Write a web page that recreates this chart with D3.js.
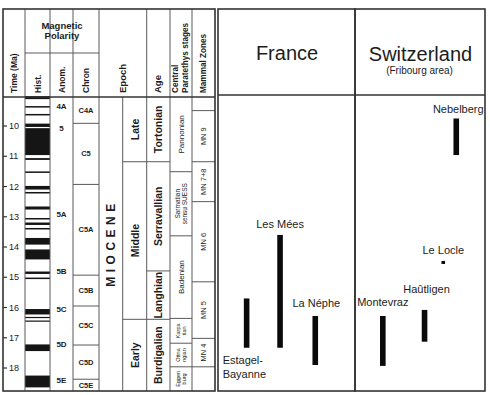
<!DOCTYPE html>
<html>
<head>
<meta charset="utf-8">
<script src="https://cdn.jsdelivr.net/npm/d3@7"></script>
<style>
  body { margin: 0; background: #fff; }
  svg text { font-family: "Liberation Sans", Arial, sans-serif; fill: #1c1c1c; }
</style>
</head>
<body>
<div id="chart"></div>
<script>
// ---- data (ages in Ma) ----
const timeTicks = [10, 11, 12, 13, 14, 15, 16, 17, 18];
const timeSpan = [9.04, 18.76];

// black (normal) polarity bands, [from, to]
const polarityBands = [
  [9.01, 9.11], [9.34, 9.39], [9.60, 9.65], [9.92, 10.03], [10.07, 10.96],
  [11.06, 11.12], [11.50, 11.55], [11.98, 12.10], [12.18, 12.23], [12.66, 12.76],
  [13.04, 13.09], [13.19, 13.27], [13.37, 13.42], [13.70, 13.92], [14.08, 14.41],
  [14.81, 14.89], [15.01, 15.06], [16.05, 16.23], [16.31, 16.35], [16.43, 16.46],
  [17.22, 17.44], [18.25, 18.64]
];

const anomalyNames = ["4A", "5", "5A", "5B", "5C", "5D", "5E"];
const anomalyAt = [9.36, 10.08, 12.94, 14.82, 16.05, 17.21, 18.40];

const chronNames = ["C4A", "C5", "C5A", "C5B", "C5C", "C5D", "C5E"];
const chronBreaks = [9.91, 11.93, 14.93, 15.95, 17.24, 18.37];

const subEpochNames = ["Late", "Middle", "Early"];
const subEpochBreaks = [11.18, 16.39];

const ageNames = ["Tortonian", "Serravallian", "Langhian", "Burdigalian"];
const ageBreaks = [11.18, 14.79, 16.39];

const paratethysNames = [["Pannonian"], ["Sarmatian", "sensu SUESS"], ["Badenian"],
                         ["Karpa", "tian"], ["Ottna", "ngian"], ["Eggen", "burg"]];
const paratethysBreaks = [11.51, 13.63, 16.36, 17.18, 17.96];

const mammalNames = ["", "MN 9", "MN 7+8", "MN 6", "MN 5", "MN 4", ""];
const mammalBreaks = [9.49, 11.18, 12.50, 15.15, 17.02, 17.96];

const countries = ["France", "Switzerland"];
const siteNames = ["Estagel-Bayanne", "Les Mées", "La Néphe", "Montevraz", "Haûtligen", "Le Locle", "Nebelberg"];
const siteCountry = ["France", "France", "France", "Switzerland", "Switzerland", "Switzerland", "Switzerland"];
const siteFrom = [15.70, 13.60, 16.28, 16.28, 16.08, 14.46, 9.75];
const siteTo = [17.33, 17.33, 17.90, 17.93, 17.13, 14.56, 10.96];

// ---- layout ----
const W = 490, H = 395;
const topY = 9, headBottom = 97, bottomY = 391;
const col = {time: 3, hist: 25, anom: 50, chron: 73, epoch: 99, sub: 122.7, age: 146.7, para: 170, mn: 192, end: 215};
const panel = {France: [218, 355], Switzerland: [355, 485]};
const rightHead = 95;
// horizontal lane of each site within its country panel (fraction of panel width)
const siteLane = [0.209, 0.453, 0.710, 0.214, 0.535, 0.679, 0.779];
// label placement relative to bar (dx from bar centre, dy from bar top; "below" uses bar bottom)
const siteLabel = [
  {dx: -24, dy: 16, anchor: "start", below: true, lines: ["Estagel-", "Bayanne"]},
  {dx: 0, dy: -7, anchor: "middle"},
  {dx: 1, dy: -9, anchor: "middle"},
  {dx: 0, dy: -10, anchor: "middle"},
  {dx: 2, dy: -17, anchor: "middle"},
  {dx: 0, dy: -7, anchor: "middle"},
  {dx: 2, dy: -5, anchor: "middle"}
];

const y = d3.scaleLinear().domain(timeSpan).range([headBottom, bottomY]);

const svg = d3.select("#chart").append("svg")
  .attr("width", W).attr("height", H);

const lineCol = "#5a5a5a";

function hline(x1, x2, yy, w = 1, c = lineCol) {
  svg.append("line").attr("x1", x1).attr("x2", x2).attr("y1", yy).attr("y2", yy)
     .attr("stroke", c).attr("stroke-width", w);
}
function vline(xx, y1, y2, w = 1, c = lineCol) {
  svg.append("line").attr("x1", xx).attr("x2", xx).attr("y1", y1).attr("y2", y2)
     .attr("stroke", c).attr("stroke-width", w);
}
// rotated (reading upward) text; lines stacked left to right
function vtext(cx, cy, lines, size, weight = "normal", anchor = "middle", spacing = 0) {
  if (!Array.isArray(lines)) lines = [lines];
  const lh = size * 1.1;
  const x0 = cx - (lines.length - 1) * lh / 2;
  lines.forEach((s, i) => {
    svg.append("text")
       .attr("transform", `translate(${x0 + i * lh},${cy}) rotate(-90)`)
       .attr("text-anchor", anchor)
       .attr("dominant-baseline", "central")
       .attr("font-size", size)
       .attr("font-weight", weight)
       .attr("letter-spacing", spacing)
       .text(s);
  });
}
const mid = (a, b) => (a + b) / 2;

// ---- polarity column ----
svg.append("g").selectAll("rect")
   .data(polarityBands)
   .join("rect")
   .attr("x", col.hist)
   .attr("width", col.anom - col.hist)
   .attr("y", d => y(d[0]))
   .attr("height", d => Math.max(1.2, y(d[1]) - y(d[0])))
   .attr("fill", "#151515");

// ---- time axis ----
const ticks = svg.append("g");
ticks.selectAll("line").data(timeTicks).join("line")
     .attr("x1", col.time).attr("x2", col.time + 4)
     .attr("y1", d => y(d)).attr("y2", d => y(d))
     .attr("stroke", "#333").attr("stroke-width", 1.2);
ticks.selectAll("text").data(timeTicks).join("text")
     .attr("x", col.time + 6).attr("y", d => y(d))
     .attr("dominant-baseline", "central")
     .attr("font-size", 9)
     .text(d => d);

// ---- anomaly labels ----
svg.append("g").selectAll("text").data(anomalyNames).join("text")
   .attr("x", mid(col.anom, col.chron)).attr("y", (d, i) => y(anomalyAt[i]))
   .attr("text-anchor", "middle").attr("dominant-baseline", "central")
   .attr("font-size", 8).attr("font-weight", "bold").attr("fill", "#444")
   .text(d => d);

// ---- generic boxed column ----
function boxColumn(x1, x2, breaks, names, draw) {
  const b = [timeSpan[0], ...breaks, timeSpan[1]];
  breaks.forEach(t => hline(x1, x2, y(t)));
  names.forEach((n, i) => draw(mid(x1, x2), mid(y(b[i]), y(b[i + 1])), n, i));
}

boxColumn(col.chron, col.epoch, chronBreaks, chronNames, (cx, cy, n) => {
  svg.append("text").attr("x", cx).attr("y", cy)
     .attr("text-anchor", "middle").attr("dominant-baseline", "central")
     .attr("font-size", 7.5).attr("font-weight", "bold").attr("fill", "#444").text(n);
});
boxColumn(col.sub, col.age, subEpochBreaks, subEpochNames, (cx, cy, n) => vtext(cx, cy, n, 10.5, "bold"));
boxColumn(col.age, col.para, ageBreaks, ageNames, (cx, cy, n) => vtext(cx, cy, n, 10.5, "bold"));
boxColumn(col.para, col.mn, paratethysBreaks, paratethysNames, (cx, cy, n) =>
  vtext(cx, cy, n, n.length > 1 && n[0].length < 7 ? 5.5 : (n.length > 1 ? 6.5 : 8)));
boxColumn(col.mn, col.end, mammalBreaks, mammalNames, (cx, cy, n) => vtext(cx, cy, n, 7.5));

// MIOCENE
vtext(mid(col.epoch, col.sub), 243, "MIOCENE", 12, "bold", "middle", 4.5);

// ---- left table grid ----
[col.hist, col.anom, col.chron, col.epoch, col.age, col.para, col.mn].forEach(x => vline(x, topY, bottomY));
vline(col.sub, headBottom, bottomY);
hline(col.hist, col.epoch, 53);
hline(col.time, col.end, headBottom, 1.4, "#333");
svg.append("rect").attr("x", col.time).attr("y", topY)
   .attr("width", col.end - col.time).attr("height", bottomY - topY)
   .attr("fill", "none").attr("stroke", "#333").attr("stroke-width", 1.6);

// ---- left headers ----
svg.append("text").attr("x", mid(col.hist, col.epoch)).attr("y", 29)
   .attr("text-anchor", "middle").attr("font-size", 9.5).attr("font-weight", "bold").text("Magnetic");
svg.append("text").attr("x", mid(col.hist, col.epoch)).attr("y", 39)
   .attr("text-anchor", "middle").attr("font-size", 9.5).attr("font-weight", "bold").text("Polarity");
vtext(14, 93, "Time (Ma)", 8.5, "bold", "start");
vtext(37.5, 93, "Hist.", 8.5, "bold", "start");
vtext(61.5, 93, "Anom.", 8.5, "bold", "start");
vtext(86, 93, "Chron", 8.5, "bold", "start");
vtext(122.7, 93, "Epoch", 9.5, "bold", "start");
vtext(157.5, 93, "Age", 9.5, "bold", "start");
vtext(180.5, 93, ["Central", "Paratethys stages"], 8.2, "bold", "start");
vtext(203, 93, "Mammal Zones", 8.2, "bold", "start");

// ---- right table ----
countries.forEach(c => {
  const [x1, x2] = panel[c];
  svg.append("rect").attr("x", x1).attr("y", topY)
     .attr("width", x2 - x1).attr("height", bottomY - topY)
     .attr("fill", "none").attr("stroke", "#333").attr("stroke-width", 1.6);
  svg.append("text").attr("x", mid(x1, x2) + 0.5).attr("y", c === "France" ? 60 : 61)
     .attr("text-anchor", "middle").attr("font-size", 20).text(c);
});
hline(panel.France[0], panel.Switzerland[1], rightHead, 1.6, "#333");
svg.append("text").attr("x", mid(...panel.Switzerland) - 0.5).attr("y", 74)
   .attr("text-anchor", "middle").attr("font-size", 10).text("(Fribourg area)");

// ---- site ranges ----
const sites = siteNames.map((name, i) => {
  const [x1, x2] = panel[siteCountry[i]];
  return {name, x: x1 + siteLane[i] * (x2 - x1), from: siteFrom[i], to: siteTo[i], lab: siteLabel[i]};
});

svg.append("g").selectAll("rect").data(sites).join("rect")
   .attr("x", d => d.x - (d.to - d.from < 0.2 ? 1.8 : 2.8))
   .attr("width", d => d.to - d.from < 0.2 ? 3.6 : 5.6)
   .attr("y", d => y(d.from))
   .attr("height", d => y(d.to) - y(d.from))
   .attr("fill", "#0a0a0a");

sites.forEach(d => {
  const lines = d.lab.lines || [d.name];
  const base = d.lab.below ? y(d.to) : y(d.from);
  lines.forEach((s, k) => {
    svg.append("text")
       .attr("x", d.x + d.lab.dx)
       .attr("y", base + d.lab.dy + k * 14)
       .attr("text-anchor", d.lab.anchor)
       .attr("font-size", 11)
       .attr("fill", "#222")
       .text(s);
  });
});
</script>
</body>
</html>
